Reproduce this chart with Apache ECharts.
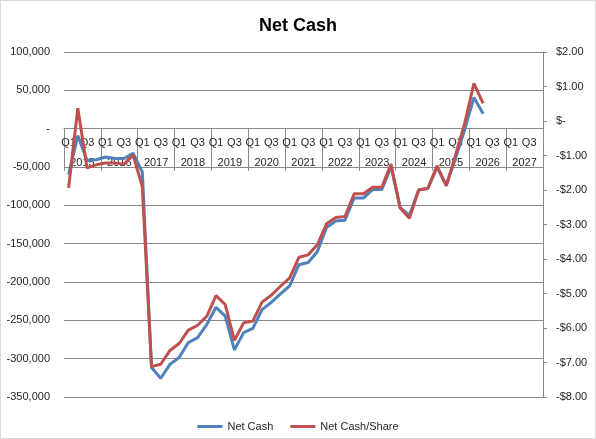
<!DOCTYPE html>
<html>
<head>
<meta charset="utf-8">
<script src="https://cdn.jsdelivr.net/npm/echarts@6/dist/echarts.min.js"></script>
<style>
html,body{margin:0;padding:0;background:#fff;}
#chart{width:596px;height:439px;box-sizing:border-box;border:1px solid #d9d9d9;}
</style>
</head>
<body>
<div id="chart"></div>
<script>
const years = ['2015','2016','2017','2018','2019','2020','2021','2022','2023','2024','2025','2026','2027'];
const quarterNames = ['Q1','Q2','Q3','Q4'];
const netCash = [-60000, -9000, -41500, -40500, -37000, -39000, -39000, -32000, -56500,
  -311500, -325500, -307500, -298500, -279000, -272500, -255500, -233000, -244500,
  -288500, -266000, -260500, -236000, -226500, -215500, -205000, -177500, -174500,
  -160500, -129000, -120500, -119500, -90500, -90500, -79500, -79500, -49500,
  -103000, -113000, -80000, -78000, -50500, -73500, -39000, -1000, 40500, 19500];
const netCashPerShare = [-1.94, 0.37, -1.36, -1.27, -1.22, -1.22, -1.25, -0.99, -1.90,
  -7.12, -7.05, -6.65, -6.45, -6.06, -5.92, -5.66, -5.06, -5.32, -6.36, -5.85, -5.80,
  -5.25, -5.05, -4.79, -4.55, -3.95, -3.88, -3.59, -2.98, -2.80, -2.77, -2.11, -2.11,
  -1.92, -1.92, -1.25, -2.53, -2.82, -2.00, -1.95, -1.30, -1.88, -0.99, -0.07, 1.09, 0.51];

const quarters = [];
years.forEach(y => quarterNames.forEach(q => quarters.push(q + ' ' + y)));

const font = 'Liberation Sans';
const textColor = '#262626';
const gray = '#898989';

const chart = echarts.init(document.getElementById('chart'));
function buildOption(axisOffset) {
  return {
    animation: false,
    textStyle: {fontFamily: font},
    title: {
      text: 'Net Cash', left: 'center', top: 11,
      textStyle: {fontFamily: font, fontSize: 18, fontWeight: 'bold', color: '#000'}
    },
    legend: {
      top: 415, left: 'center', itemWidth: 25, itemHeight: 3, itemGap: 17, icon: 'rect',
      textStyle: {fontFamily: font, fontSize: 11, color: textColor},
      data: ['Net Cash', 'Net Cash/Share']
    },
    grid: {left: 63, right: 52, top: 51, bottom: 41, containLabel: false},
    xAxis: [
      {
        type: 'category', data: quarters, position: 'bottom', boundaryGap: true, offset: axisOffset,
        axisLine: {onZero: false, lineStyle: {color: gray, width: 1}},
        axisTick: {show: true, length: 42, interval: (i) => i % 4 === 0, lineStyle: {color: gray}},
        axisLabel: {
          interval: 1, margin: 9, fontSize: 11, color: textColor, fontFamily: font,
          formatter: (v) => v.split(' ')[0]
        },
        splitLine: {show: false}
      },
      {
        type: 'category', data: years, position: 'bottom', boundaryGap: true, offset: axisOffset,
        axisLine: {show: false, onZero: false},
        axisTick: {show: false},
        axisLabel: {interval: 0, margin: 29, fontSize: 11, color: textColor, fontFamily: font},
        splitLine: {show: false}
      }
    ],
    yAxis: [
      {
        type: 'value', min: -350000, max: 100000, interval: 50000, position: 'left',
        axisLine: {show: false}, axisTick: {show: false},
        splitLine: {show: true, lineStyle: {color: gray, width: 1}},
        axisLabel: {
          margin: 14, fontSize: 11, color: textColor, fontFamily: font,
          formatter: (v) => v === 0 ? '-' : v.toLocaleString('en-US')
        }
      },
      {
        type: 'value', min: -8, max: 2, interval: 1, position: 'right',
        axisLine: {show: true, lineStyle: {color: gray, width: 1}},
        axisTick: {show: true, length: 4, lineStyle: {color: gray}},
        splitLine: {show: false},
        axisLabel: {
          margin: 13, fontSize: 11, color: textColor, fontFamily: font,
          formatter: (v) => v === 0 ? '$-' : (v < 0 ? '-$' + Math.abs(v).toFixed(2) : '$' + v.toFixed(2))
        }
      }
    ],
    series: [
      {
        name: 'Net Cash', type: 'line', xAxisIndex: 0, yAxisIndex: 0, data: netCash,
        symbol: 'none', lineStyle: {color: '#4F81BD', width: 3}, itemStyle: {color: '#4F81BD'}
      },
      {
        name: 'Net Cash/Share', type: 'line', xAxisIndex: 0, yAxisIndex: 1, data: netCashPerShare,
        symbol: 'none', lineStyle: {color: '#C0504D', width: 3}, itemStyle: {color: '#C0504D'}
      }
    ]
  };
}
chart.setOption(buildOption(0));
const yMin = chart.getModel().getComponent('yAxis', 0).axis.scale.getExtent()[0];
const zeroY = chart.convertToPixel({yAxisIndex: 0}, 0);
const bottomY = chart.convertToPixel({yAxisIndex: 0}, yMin);
chart.setOption(buildOption(-(bottomY - zeroY)));
</script>
</body>
</html>
